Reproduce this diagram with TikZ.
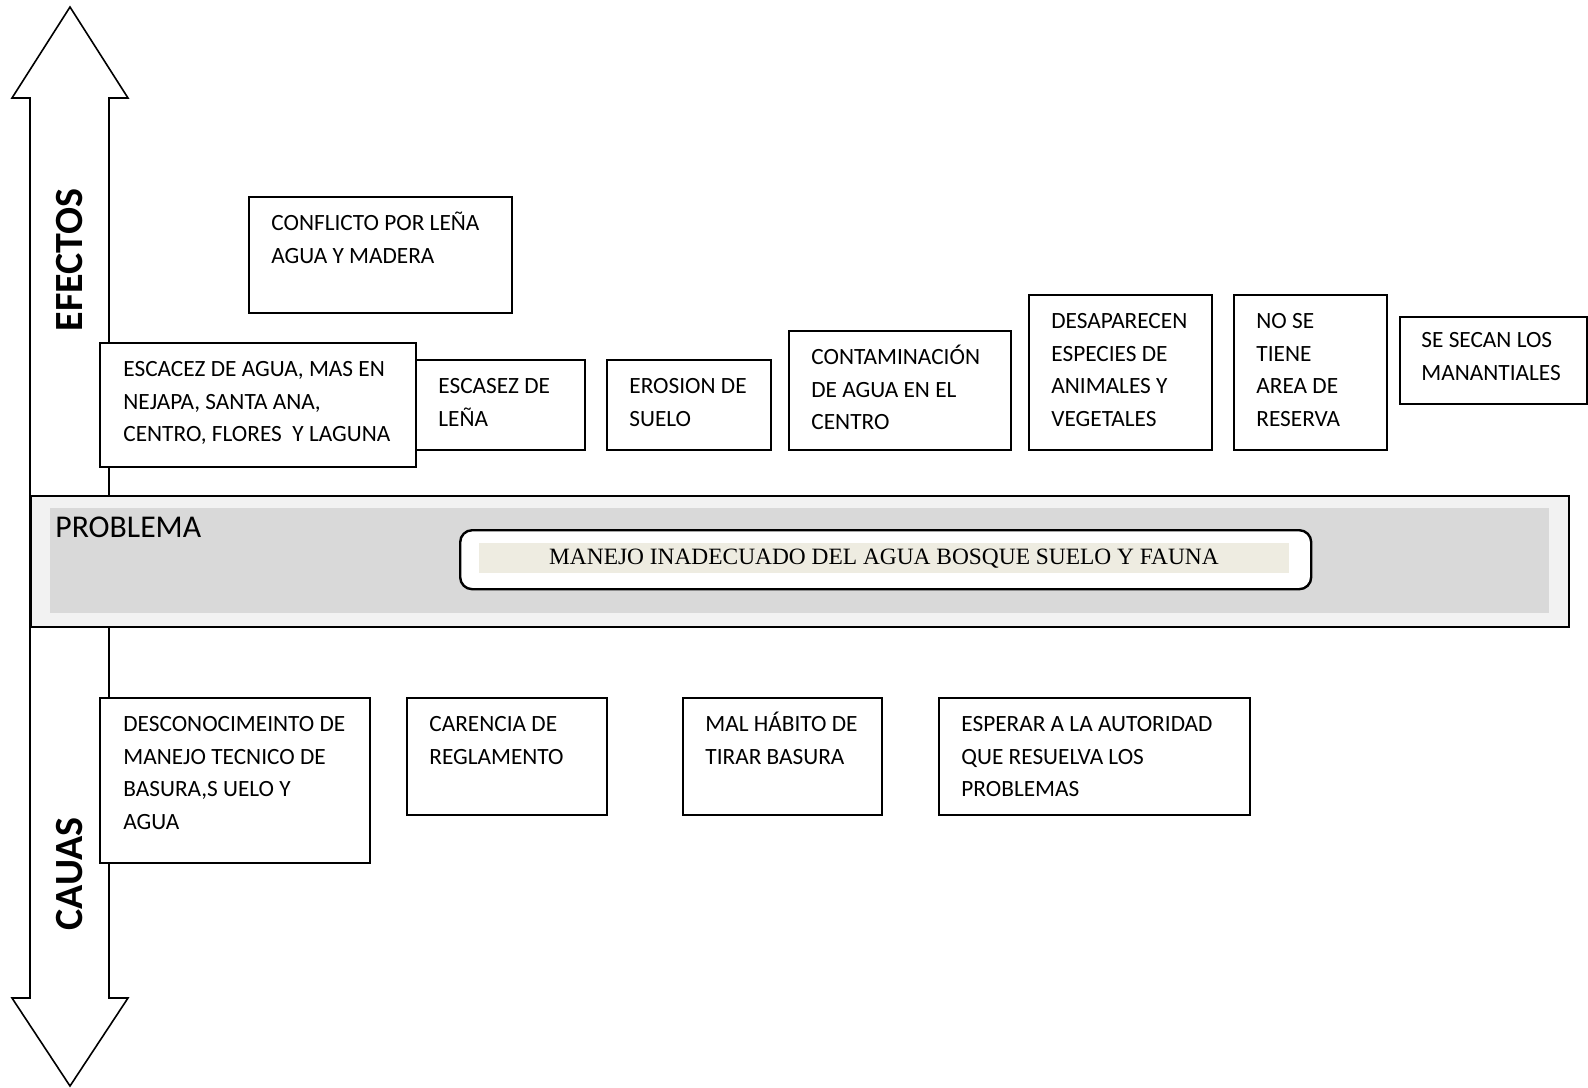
\documentclass[tikz,border=0pt]{standalone}
\usepackage{fontspec}
\setmainfont{Carlito}
\newfontfamily\timesf{Liberation Serif}
\definecolor{bandout}{HTML}{F2F2F2}
\definecolor{bandin}{HTML}{D9D9D9}
\definecolor{beige}{HTML}{EEECE1}
\newcommand\tstr{\rule{0pt}{10pt}}
\tikzset{
  boxst/.style={draw, line width=1pt, fill=white, rectangle, inner sep=0pt, anchor=north west},
  txtst/.style={anchor=north west, inner sep=0pt, align=left, font=\fontsize{11.65}{16.35}\selectfont},
  arrowst/.style={draw, line width=0.8pt, fill=white, line join=miter},
  sidest/.style={rotate=90, inner sep=0pt, font=\fontsize{20}{24}\selectfont\bfseries},
}
\newcommand\bx[5]{\node[boxst, minimum width={(#4-#2)*0.5pt}, minimum height={(#5-#3)*0.5pt}] (#1) at (#2,#3) {};}
\begin{document}
\begin{tikzpicture}[x=0.5pt,y=-0.5pt]
\useasboundingbox (0,0) rectangle (1588,1087);
% vertical double arrow
\draw[arrowst] (30,98) -- (12,98) -- (70,7) -- (128,98) -- (109,98) -- (109,998) -- (128,998) -- (70,1086) -- (12,998) -- (30,998) -- cycle;
\node[sidest] (efectos) at (70,260) {EFECTOS};
\node[sidest] (causas) at (70,874) {CAUAS};
% effect boxes
\bx{cf}{248}{196}{511}{312}
\bx{e1}{99}{342}{415}{466}
\bx{e2}{415}{359}{584}{449}
\bx{e3}{606}{359}{770}{449}
\bx{e4}{788}{330}{1010}{449}
\bx{e5}{1028}{294}{1211}{449}
\bx{e6}{1233}{294}{1386}{449}
\bx{e7}{1399}{316}{1586}{403}
\node[txtst] (cft) at (271,210) {\tstr CONFLICTO POR LEÑA\\AGUA Y MADERA};
\node[txtst] (e1t) at (123,356) {\tstr ESCACEZ DE AGUA, MAS EN\\NEJAPA, SANTA ANA,\\CENTRO, FLORES\ \ Y LAGUNA};
\node[txtst] (e2t) at (438,373) {\tstr ESCASEZ DE\\LEÑA};
\node[txtst] (e3t) at (629,373) {\tstr EROSION DE\\SUELO};
\node[txtst] (e4t) at (811,344) {\tstr CONTAMINACIÓN\\DE AGUA EN EL\\CENTRO};
\node[txtst] (e5t) at (1051,308) {\tstr DESAPARECEN\\ESPECIES DE\\ANIMALES Y\\VEGETALES};
\node[txtst] (e6t) at (1256,308) {\tstr NO SE\\TIENE\\AREA DE\\RESERVA};
\node[txtst] (e7t) at (1421,327) {\tstr SE SECAN LOS\\MANANTIALES};
% problem band
\bx{band}{31}{496}{1567}{625}
\path[fill=bandout] (band.north west) rectangle (band.south east);
\draw[line width=1pt] (band.north west) rectangle (band.south east);
\node[anchor=north west, fill=bandin, inner sep=0pt, minimum width={1499*0.5pt}, minimum height={105*0.5pt}] (bandin) at (50,508) {};
\node[anchor=base west, inner sep=0pt, font=\fontsize{15.85}{19}\selectfont] (prob) at (55,537) {PROBLEMA};
\node[anchor=north west, draw, line width=1.2pt, fill=white, rounded corners=6pt, inner sep=0pt, minimum width={851*0.5pt}, minimum height={59*0.5pt}] (pbox) at (459,529) {};
\node[anchor=north west, fill=beige, inner sep=0pt, minimum width={810*0.5pt}, minimum height={30*0.5pt}] (pbeige) at (479,543) {};
\node[anchor=base, inner sep=0pt, font=\timesf\fontsize{11.7}{14}\selectfont] (ptext) at (884,564) {MANEJO INADECUADO DEL AGUA BOSQUE SUELO Y FAUNA};
% cause boxes
\bx{c1}{99}{697}{369}{862}
\bx{c2}{406}{697}{606}{814}
\bx{c3}{682}{697}{881}{814}
\bx{c4}{938}{697}{1249}{814}
\node[txtst] (c1t) at (123,711) {\tstr DESCONOCIMEINTO DE\\MANEJO TECNICO DE\\BASURA,S UELO Y\\AGUA};
\node[txtst] (c2t) at (429,711) {\tstr CARENCIA DE\\REGLAMENTO};
\node[txtst] (c3t) at (705,711) {\tstr MAL HÁBITO DE\\TIRAR BASURA};
\node[txtst] (c4t) at (961,711) {\tstr ESPERAR A LA AUTORIDAD\\QUE RESUELVA LOS\\PROBLEMAS};
\end{tikzpicture}
\end{document}
